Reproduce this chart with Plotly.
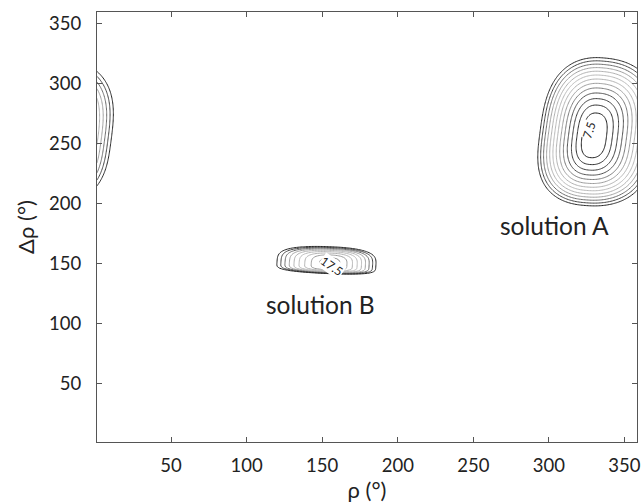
import numpy as np
import plotly.graph_objects as go

# ---- axes ----
x_ticks = [50, 100, 150, 200, 250, 300, 350]
y_ticks = [50, 100, 150, 200, 250, 300, 350]
x_grid = np.arange(1, 361, 1.0)
y_grid = np.arange(1, 361, 1.0)

# ---- contour levels ----
level_start = 7.5
level_end = 37.5
level_step = 2.5
level_colors = ["#1e1e1e", "#2e2e2e", "#3c3c3c", "#505050", "#7a7a7a", "#9c9c9c",
                "#b2b2b2", "#bababa", "#b2b2b2", "#a0a0a0", "#6e6e6e", "#464646", "#262626"]

# ---- basins ----
basin_cx = [329.4, 155.5]
basin_cy = [255.7, 148.5]
basin_min = [4.0, 15.8]
basin_rx_left = [35.5, 35.5]
basin_rx_right = [41.0, 30.0]
basin_ry_low = [57.5, 7.0]
basin_ry_high = [66.3, 15.5]
basin_ex = [2.3, 2.3]
basin_ey = [3.0, 4.0]
basin_gamma = [0.63, 0.7]
basin_tilt = [6.0, 3.0]

# ---- text ----
region_labels = ["solution A", "solution B"]
region_label_x = [303.5, 149.0]
region_label_y = [181.5, 115.5]
level_labels = ["7.5", "17.5"]
level_label_x = [327.0, 156.8]
level_label_y = [261.5, 147.7]
level_label_angle = [-72, 35]

X, Y = np.meshgrid(x_grid, y_grid)
Z = np.full(X.shape, 1e3)
for i in range(len(basin_cx)):
    dx = ((X - basin_cx[i] + 180.0) % 360.0) - 180.0
    dy = Y - basin_cy[i]
    a = np.deg2rad(basin_tilt[i])
    u = dx * np.cos(a) - dy * np.sin(a)
    v = dx * np.sin(a) + dy * np.cos(a)
    ru = np.where(u < 0, basin_rx_left[i], basin_rx_right[i])
    rv = np.where(v < 0, basin_ry_low[i], basin_ry_high[i])
    t = (np.abs(u) / ru) ** basin_ex[i] + (np.abs(v) / rv) ** basin_ey[i]
    zb = basin_min[i] + (level_end - basin_min[i]) * t ** basin_gamma[i]
    Z = np.minimum(Z, zb)
Z = np.minimum(Z, 60.0).astype(np.float32)

n_lv = len(level_colors)
colorscale = [[k / (n_lv - 1), c] for k, c in enumerate(level_colors)]

fig = go.Figure()
fig.add_trace(go.Contour(
    x=x_grid, y=y_grid, z=Z,
    autocontour=False,
    contours=dict(start=level_start, end=level_end, size=level_step,
                  coloring="lines", showlabels=False),
    colorscale=colorscale, showscale=False,
    line=dict(width=1, smoothing=1.0),
    hoverinfo="skip",
))

font_main = "Lato, 'Open Sans', sans-serif"
for txt, xx, yy in zip(region_labels, region_label_x, region_label_y):
    fig.add_annotation(x=xx, y=yy, text=txt, showarrow=False,
                       font=dict(family=font_main, size=24.5, color="#222"))
for txt, xx, yy, ang in zip(level_labels, level_label_x, level_label_y, level_label_angle):
    fig.add_annotation(x=xx, y=yy, text=txt, showarrow=False, textangle=ang,
                       bgcolor="white", borderpad=0,
                       font=dict(family=font_main, size=12, color="#222"))

axis_common = dict(showgrid=False, zeroline=False, showline=True, linecolor="#555",
                   linewidth=1, mirror="ticks", ticks="inside", ticklen=5,
                   tickcolor="#555", tickwidth=1, ticklabeloverflow="allow",
                   tickfont=dict(family=font_main, size=18.5, color="#222"))
fig.update_xaxes(range=[1, 358.3], tickvals=x_ticks, ticklabelstandoff=7, **axis_common,
                 title=dict(text="ρ (°)", font=dict(family=font_main, size=22, color="#222"), standoff=6))
fig.update_yaxes(range=[1, 360], tickvals=y_ticks, ticklabelstandoff=11, **axis_common,
                 title=dict(text="Δρ (°)", font=dict(family=font_main, size=22, color="#222"), standoff=8))
fig.update_layout(width=641, height=504, margin=dict(l=97, r=0, t=12, b=62),
                  plot_bgcolor="white", paper_bgcolor="white", showlegend=False)

fig.write_html("out.html")
